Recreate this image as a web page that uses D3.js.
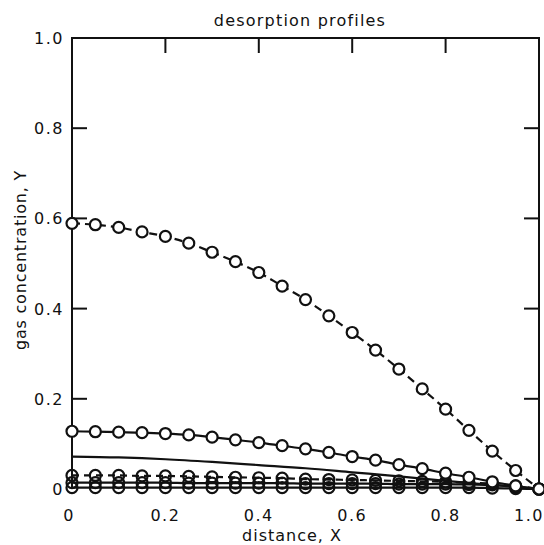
<!DOCTYPE html>
<html>
<head>
<meta charset="utf-8">
<script src="https://cdn.jsdelivr.net/npm/d3@7"></script>
<style>
body { margin: 0; background: #fff; }
text { font-family: "DejaVu Sans", sans-serif; fill: #111; }
</style>
</head>
<body>
<script>
// distance points where the circles sit
var xs = [0, 0.05, 0.1, 0.15, 0.2, 0.25, 0.3, 0.35, 0.4, 0.45, 0.5,
          0.55, 0.6, 0.65, 0.7, 0.75, 0.8, 0.85, 0.9, 0.95, 1.0];

// profiles, top to bottom
var profile1 = [0.589, 0.586, 0.580, 0.570, 0.560, 0.545, 0.525, 0.504, 0.480, 0.450, 0.420,
                0.384, 0.347, 0.308, 0.266, 0.222, 0.177, 0.130, 0.084, 0.041, 0.0];
var profile2 = [0.128, 0.127, 0.126, 0.125, 0.123, 0.120, 0.115, 0.109, 0.103, 0.096, 0.089,
                0.081, 0.072, 0.064, 0.054, 0.045, 0.035, 0.026, 0.016, 0.007, 0.0];
var profile3x = [0, 0.1, 0.2, 0.3, 0.4, 0.5, 0.6, 0.7, 0.8, 0.9, 1.0];
var profile3 = [0.072, 0.070, 0.066, 0.060, 0.053, 0.046, 0.037, 0.028, 0.018, 0.009, 0.0];
var profile4 = [0.030, 0.030, 0.030, 0.029, 0.029, 0.028, 0.027, 0.026, 0.025, 0.024, 0.022,
                0.021, 0.020, 0.019, 0.018, 0.017, 0.016, 0.014, 0.012, 0.007, 0.0];
var profile5 = [0.014, 0.014, 0.014, 0.014, 0.014, 0.013, 0.013, 0.013, 0.013, 0.013, 0.012,
                0.012, 0.012, 0.012, 0.011, 0.011, 0.011, 0.010, 0.009, 0.005, 0.0];
var profile6 = [0.003, 0.003, 0.003, 0.003, 0.003, 0.003, 0.003, 0.003, 0.003, 0.003, 0.003,
                0.003, 0.003, 0.003, 0.003, 0.003, 0.003, 0.003, 0.002, 0.001, 0.0];

var xTicks = [0, 0.2, 0.4, 0.6, 0.8, 1.0];
var xTickLabels = ["0", "0.2", "0.4", "0.6", "0.8", "1.0"];
var yTicks = [0, 0.2, 0.4, 0.6, 0.8, 1.0];
var yTickLabels = ["0", "0.2", "0.4", "0.6", "0.8", "1.0"];

var width = 544, height = 545;
var plotLeft = 72, plotRight = 539, plotTop = 38, plotBottom = 489;

var svg = d3.select("body").append("svg")
    .attr("width", width)
    .attr("height", height);

var x = d3.scaleLinear().domain([0, 1]).range([plotLeft, plotRight]);
var y = d3.scaleLinear().domain([0, 1]).range([plotBottom, plotTop]);

var line = d3.line()
    .x(function(d) { return x(d[0]); })
    .y(function(d) { return y(d[1]); })
    .curve(d3.curveMonotoneX);

function pairs(xv, yv) {
    return xv.map(function(v, i) { return [v, yv[i]]; });
}

// frame: left, top and right sides
svg.append("path")
    .attr("d", "M" + plotLeft + "," + plotBottom + "V" + plotTop + "H" + plotRight + "V" + plotBottom)
    .attr("fill", "none")
    .attr("stroke", "#111")
    .attr("stroke-width", 2);

// inward ticks
var tickLen = 15;
xTicks.slice(1, -1).forEach(function(t) {
    svg.append("line")
        .attr("x1", x(t)).attr("x2", x(t))
        .attr("y1", plotTop).attr("y2", plotTop + tickLen)
        .attr("stroke", "#111").attr("stroke-width", 2);
});
yTicks.slice(1, -1).forEach(function(t) {
    svg.append("line")
        .attr("x1", plotLeft).attr("x2", plotLeft + tickLen)
        .attr("y1", y(t)).attr("y2", y(t))
        .attr("stroke", "#111").attr("stroke-width", 2);
    svg.append("line")
        .attr("x1", plotRight - tickLen).attr("x2", plotRight)
        .attr("y1", y(t)).attr("y2", y(t))
        .attr("stroke", "#111").attr("stroke-width", 2);
});

// tick labels
svg.selectAll(".xlab").data(xTicks).enter().append("text")
    .attr("class", "xlab")
    .attr("x", function(d) { return x(d); })
    .attr("y", 521)
    .attr("text-anchor", function(d) { return d === 1 ? "end" : "middle"; })
    .attr("dx", function(d) { return d === 1 ? 5 : (d === 0 ? -3 : 0); })
    .attr("font-size", 16)
    .attr("letter-spacing", 1.5)
    .text(function(d, i) { return xTickLabels[i]; });

svg.selectAll(".ylab").data(yTicks).enter().append("text")
    .attr("class", "ylab")
    .attr("x", 64)
    .attr("y", function(d) { return y(d) + 6; })
    .attr("text-anchor", "end")
    .attr("font-size", 16)
    .attr("letter-spacing", 1.5)
    .text(function(d, i) { return yTickLabels[i]; });

// titles
svg.append("text")
    .attr("x", 300).attr("y", 26)
    .attr("text-anchor", "middle")
    .attr("font-size", 16)
    .attr("letter-spacing", 1.2)
    .text("desorption profiles");

svg.append("text")
    .attr("x", 292).attr("y", 541)
    .attr("text-anchor", "middle")
    .attr("font-size", 16)
    .attr("letter-spacing", 1)
    .text("distance, X");

svg.append("text")
    .attr("transform", "translate(26,260) rotate(-90)")
    .attr("text-anchor", "middle")
    .attr("font-size", 16)
    .attr("letter-spacing", 0.8)
    .text("gas concentration, Y");

// curves
var series = [
    { xv: xs, yv: profile6, dash: null, circles: true, fill: "none" },
    { xv: xs, yv: profile5, dash: null, circles: true, fill: "none" },
    { xv: xs, yv: profile4, dash: "7,5", circles: true, fill: "none" },
    { xv: profile3x, yv: profile3, dash: null, circles: false, fill: "none" },
    { xv: xs, yv: profile2, dash: null, circles: true, fill: "#fff" },
    { xv: xs, yv: profile1, dash: "8,5", circles: true, fill: "#fff" }
];

series.forEach(function(s) {
    var pts = pairs(s.xv, s.yv);
    svg.append("path")
        .datum(pts)
        .attr("fill", "none")
        .attr("stroke", "#111")
        .attr("stroke-width", 2.2)
        .attr("stroke-dasharray", s.dash)
        .attr("d", line);
    if (s.circles) {
        svg.append("g").selectAll("circle").data(pts).enter().append("circle")
            .attr("cx", function(d) { return x(d[0]); })
            .attr("cy", function(d) { return y(d[1]); })
            .attr("r", 5.5)
            .attr("fill", s.fill)
            .attr("stroke", "#111")
            .attr("stroke-width", 2.2);
    }
});
</script>
</body>
</html>
